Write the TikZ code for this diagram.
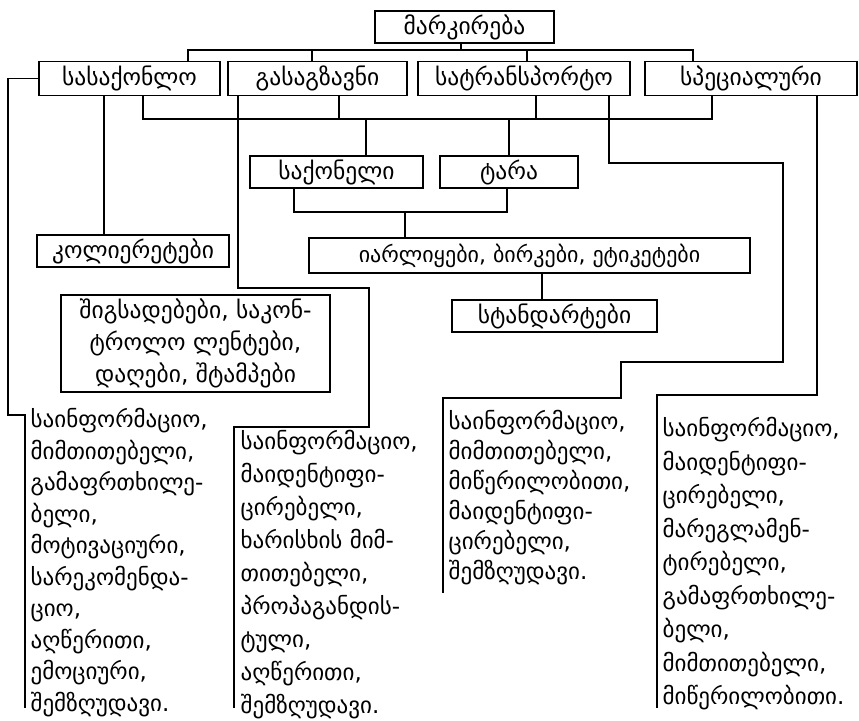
\documentclass[tikz,border=0pt]{standalone}
\usepackage{fontspec}
\usepackage{tikz}
\newfontfamily\geo{DejaVu Sans}

\begin{document}
\begin{tikzpicture}[
        x=1pt, y=-1pt,
        line width=1.3pt,
        box/.style={draw, minimum height=34pt, inner sep=2pt,
            font=\geo\fontsize{23.5}{32}\selectfont},
        info/.style={anchor=north west, align=left, inner sep=0pt,
            font=\geo\fontsize{23}{#1}\selectfont},
        info/.default=31.5
    ]
        \useasboundingbox (0,0) rectangle (859,720);

        % boxes
        \node[box, minimum width=179pt, minimum height=32pt] (mark) at (464.5,27) {მარკირება};
        \node[box, minimum width=181pt] (sasak) at (129.5,78.5) {სასაქონლო};
        \node[box, minimum width=179pt] (galas) at (317.5,78.5) {გასაგზავნი};
        \node[box, minimum width=212pt] (satr) at (524,78.5) {სატრანსპორტო};
        \node[box, minimum width=212pt] (spec) at (751,78.5) {სპეციალური};

        \node[box, minimum width=173pt, minimum height=32pt] (saqon) at (336.5,172) {საქონელი};
        \node[box, minimum width=138pt, minimum height=32pt] (tara) at (509,172) {ტარა};
        \node[box, minimum width=192pt, minimum height=32pt] (koli) at (133,251) {კოლიერეტები};
        \node[box, minimum width=441pt, minimum height=35pt, font=\geo\fontsize{22}{32}\selectfont] (iarl) at (529.5,255.5) {იარლიყები, ბირკები, ეტიკეტები};
        \node[box, minimum width=205pt, minimum height=32pt] (stand) at (554.5,316) {სტანდარტები};
        \node[box, minimum width=269pt, minimum height=97pt, align=center] (shig) at (195.5,343.5)
            {შიგსადებები, საკონ-\\ტროლო ლენტები,\\დაღები, შტამპები};

        % texts
        \node[info] (info1) at (30,408) {საინფორმაციო,\\მიმთითებელი,\\გამაფრთხილე-\\ბელი,\\მოტივაციური,\\სარეკომენდა-\\ციო,\\აღწერითი,\\ემოციური,\\შემზღუდავი.};
        \node[info=33] (info2) at (240,430) {საინფორმაციო,\\მაიდენტიფი-\\ცირებელი,\\ხარისხის მიმ-\\თითებელი,\\პროპაგანდის-\\ტული,\\აღწერითი,\\შემზღუდავი.};
        \node[info=30] (info3) at (448,410) {საინფორმაციო,\\მიმთითებელი,\\მიწერილობითი,\\მაიდენტიფი-\\ცირებელი,\\შემზღუდავი.};
        \node[info=33.5] (info4) at (662,417) {საინფორმაციო,\\მაიდენტიფი-\\ცირებელი,\\მარეგლამენ-\\ტირებელი,\\გამაფრთხილე-\\ბელი,\\მიმთითებელი,\\მიწერილობითი.};

        % upper bus
        \draw (461,0 |- mark.south) -- (461,50);
        \draw (188,0 |- sasak.north) |- (693,50) -- (693,0 |- spec.north);
        \draw (312,50) -- (312,0 |- galas.north);
        \draw (527,50) -- (527,0 |- satr.north);

        % lower bus
        \draw (143,0 |- sasak.south) |- (712,119) -- (712,0 |- spec.south);
        \draw (339,0 |- galas.south) -- (339,119);
        \draw (536,0 |- satr.south) -- (536,119);
        \draw (366,119) -- (366,0 |- saqon.north);
        \draw (509,119) -- (tara.north);

        \draw (294,0 |- saqon.south) |- (507,212) -- (507,0 |- tara.south);
        \draw (405,212) -- (405,0 |- iarl.north);
        \draw (542,0 |- iarl.south) -- (542,0 |- stand.north);
        \draw (104,0 |- sasak.south) -- (104,0 |- koli.north);

        % brackets
        \draw (sasak.west) -| (8,415) -- (25,415) -- (25,708);
        \draw (238,0 |- galas.south) |- (369,288) |- (234,427) -- (234,708);
        \draw (609,0 |- satr.south) |- (783,163) |- (621,362) |- (443,398) -- (443,593);
        \draw (817,0 |- spec.south) |- (657,395) -- (657,708);
    \end{tikzpicture}
\end{document}
